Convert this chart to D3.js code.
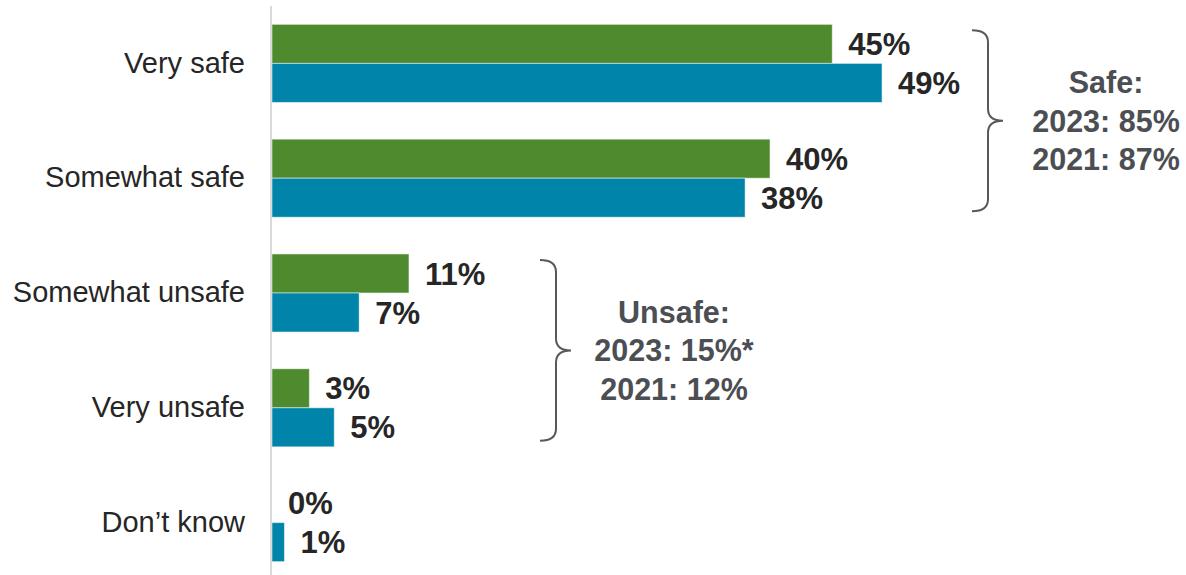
<!DOCTYPE html>
<html>
<head>
<meta charset="utf-8">
<script src="https://cdn.jsdelivr.net/npm/d3@7"></script>
<style>
  html, body { margin: 0; padding: 0; background: #fff; }
  svg { display: block; font-family: "Liberation Sans", Arial, sans-serif; }
</style>
</head>
<body>
<div id="wrapper"></div>
<script>
// Data
const categories = ["Very safe", "Somewhat safe", "Somewhat unsafe", "Very unsafe", "Don\u2019t know"];
const years = ["2023", "2021"];
const values2023 = [45, 40, 11, 3, 0];
const values2021 = [49, 38, 7, 5, 1];
const groupNames = ["Safe:", "Unsafe:"];
const groupSpans = [["Very safe", "Somewhat safe"], ["Somewhat unsafe", "Very unsafe"]];
const groupLines = [["2023: 85%", "2021: 87%"], ["2023: 15%*", "2021: 12%"]];

// Constants
const WIDTH = 1186;
const HEIGHT = 575;
const COLORS = { "2023": "#4e8a2e", "2021": "#0084a9" };
const BRACKET_X = [972, 540]; // left end of each brace

const dimensions = {
    width: WIDTH,
    height: HEIGHT,
    axisX: 271,
    top: 6,
    bottom: 580,
};

function drawChart() {
    const svg = d3.select("#wrapper")
        .append("svg")
        .attr("width", dimensions.width)
        .attr("height", dimensions.height);

    const rows = categories.map((c, i) => ({ category: c, "2023": values2023[i], "2021": values2021[i] }));

    // Scales
    const xScale = d3.scaleLinear()
        .domain([0, 100])
        .range([dimensions.axisX + 1, dimensions.axisX + 1 + 1245]);

    const yScale = d3.scaleBand()
        .domain(categories)
        .range([dimensions.top, dimensions.bottom])
        .paddingInner(0.32)
        .paddingOuter(0.16);

    const ySub = d3.scaleBand()
        .domain(years)
        .range([0, yScale.bandwidth()]);

    // Bars
    const groups = svg.append("g")
        .selectAll("g")
        .data(rows)
        .join("g")
        .attr("transform", d => `translate(0,${yScale(d.category)})`);

    groups.selectAll("rect")
        .data(d => years.map(y => ({ year: y, value: d[y] })))
        .join("rect")
        .attr("x", xScale(0))
        .attr("y", d => ySub(d.year))
        .attr("width", d => xScale(d.value) - xScale(0))
        .attr("height", ySub.bandwidth())
        .attr("fill", d => COLORS[d.year])
        .attr("stroke", d => d.value > 0 ? "#ffffff" : "none")
        .attr("stroke-opacity", 0.5)
        .attr("stroke-width", 1);

    groups.selectAll("text")
        .data(d => years.map(y => ({ year: y, value: d[y] })))
        .join("text")
        .attr("x", d => xScale(d.value) + 16)
        .attr("y", d => ySub(d.year) + ySub.bandwidth() / 2)
        .attr("dy", "0.36em")
        .attr("font-size", 31)
        .attr("font-weight", "bold")
        .attr("fill", "#262626")
        .text(d => `${d.value}%`);

    // Axis with category labels
    const yAxis = d3.axisLeft(yScale).tickSize(0).tickPadding(26);
    const axisG = svg.append("g")
        .attr("transform", `translate(${dimensions.axisX},0)`)
        .call(yAxis);
    axisG.select(".domain")
        .attr("d", `M0,${dimensions.top}V${dimensions.height}`)
        .attr("stroke", "#d9d9d9")
        .attr("stroke-width", 2);
    axisG.selectAll(".tick text")
        .attr("font-size", 29)
        .attr("font-family", "'Liberation Sans', Arial, sans-serif")
        .attr("fill", "#262626");

    // Braces and summary labels
    const inset = 6;
    groupSpans.forEach((span, i) => {
        const y0 = yScale(span[0]) + inset;
        const y1 = yScale(span[1]) + yScale.bandwidth() - inset;
        const ym = (y0 + y1) / 2;
        const x0 = BRACKET_X[i];
        const xv = x0 + 16;
        const xt = x0 + 31;
        const r = 12;
        const path = d3.path();
        path.moveTo(x0, y0);
        path.quadraticCurveTo(xv, y0, xv, y0 + r);
        path.lineTo(xv, ym - r);
        path.quadraticCurveTo(xv, ym, xt, ym);
        path.quadraticCurveTo(xv, ym, xv, ym + r);
        path.lineTo(xv, y1 - r);
        path.quadraticCurveTo(xv, y1, x0, y1);
        svg.append("path")
            .attr("d", path.toString())
            .attr("fill", "none")
            .attr("stroke", "#595959")
            .attr("stroke-width", 2);

        const lines = [groupNames[i], ...groupLines[i]];
        svg.append("text")
            .attr("x", xt + 103)
            .attr("y", ym)
            .attr("text-anchor", "middle")
            .attr("font-size", 30.5)
            .attr("font-weight", "bold")
            .attr("fill", "#4b4e53")
            .selectAll("tspan")
            .data(lines)
            .join("tspan")
            .attr("x", xt + 103)
            .attr("y", (d, j) => ym + (j - 1) * 38.5)
            .attr("dy", "0.36em")
            .text(d => d);
    });
}
drawChart();
</script>
</body>
</html>
